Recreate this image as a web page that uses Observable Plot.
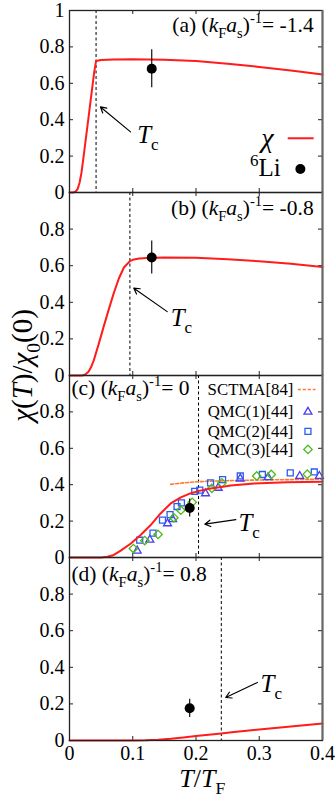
<!DOCTYPE html>
<html><head><meta charset="utf-8">
<script src="https://cdn.jsdelivr.net/npm/d3@7"></script>
<script src="https://cdn.jsdelivr.net/npm/@observablehq/plot@0.6"></script>
<style>
body{margin:0;background:#fff;}
#chart{position:relative;width:335px;height:802px;overflow:hidden;background:#fff;}
#chart svg{position:absolute;left:0;overflow:visible;background:transparent;}
#chart svg text{font-family:"Liberation Serif","Times New Roman",serif;}
</style></head><body><div id="chart"></div>
<script>
// ---------- data ----------
const panelLabels = ["(a) (*k*_{F}*a*_{s})^{-1}= -1.4", "(b) (*k*_{F}*a*_{s})^{-1}= -0.8", "(c) (*k*_{F}*a*_{s})^{-1}= 0", "(d) (*k*_{F}*a*_{s})^{-1}= 0.8"];
const tcValues = [0.042, 0.0955, 0.204, 0.24];
const xTicks = [0, 0.1, 0.2, 0.3, 0.4];
const yTicksTop = [0, 0.2, 0.4, 0.6, 0.8, 1];
const yTicks = [0, 0.2, 0.4, 0.6, 0.8];

const chiA = [[0,0],[0.006,0],[0.01,0.006],[0.013,0.02],[0.016,0.055],[0.019,0.11],[0.022,0.19],[0.026,0.3],[0.03,0.41],[0.035,0.55],[0.039,0.66],[0.042,0.723],[0.05,0.728],[0.07,0.731],[0.1,0.732],[0.15,0.729],[0.2,0.722],[0.25,0.708],[0.3,0.69],[0.35,0.67],[0.4,0.648]];
const chiB = [[0,0],[0.02,0],[0.025,0.005],[0.03,0.02],[0.034,0.045],[0.0385,0.084],[0.046,0.17],[0.054,0.267],[0.062,0.36],[0.07,0.45],[0.078,0.53],[0.086,0.59],[0.0955,0.625],[0.1,0.632],[0.11,0.639],[0.13,0.644],[0.15,0.645],[0.2,0.643],[0.25,0.635],[0.3,0.624],[0.35,0.61],[0.4,0.593]];
const chiC = [[0,0],[0.05,0],[0.06,0.004],[0.07,0.014],[0.081,0.038],[0.097,0.077],[0.112,0.122],[0.128,0.177],[0.144,0.242],[0.16,0.297],[0.176,0.33],[0.191,0.352],[0.205,0.366],[0.223,0.379],[0.24,0.387],[0.255,0.395],[0.292,0.407],[0.344,0.414],[0.4,0.416]];
const chiD = [[0,0],[0.1,0],[0.12,0.001],[0.14,0.004],[0.16,0.009],[0.18,0.016],[0.2,0.024],[0.22,0.031],[0.24,0.038],[0.26,0.046],[0.28,0.053],[0.3,0.06],[0.35,0.077],[0.4,0.093]];
const chiCurves = [chiA, chiB, chiC, chiD];

const liT = [0.13, 0.13, 0.19, 0.19];
const liChi = [0.68, 0.645, 0.272, 0.176];
const liErr = [0.105, 0.09, 0.05, 0.05];

const sctmaT = [0.16, 0.18, 0.2, 0.22, 0.25, 0.3, 0.35, 0.4];
const sctmaChi = [0.402, 0.41, 0.416, 0.419, 0.422, 0.426, 0.428, 0.43];

const qmc1 = [[0.107,0.037],[0.127,0.097],[0.155,0.187],[0.163,0.21],[0.215,0.352],[0.235,0.382],[0.27,0.433],[0.314,0.44],[0.364,0.447],[0.395,0.447]];
const qmc2 = [[0.111,0.095],[0.132,0.134],[0.147,0.205],[0.159,0.236],[0.17,0.28],[0.177,0.3],[0.198,0.363],[0.206,0.37],[0.223,0.41],[0.242,0.428],[0.27,0.448],[0.305,0.456],[0.349,0.465],[0.387,0.47]];
const qmc3 = [[0.101,0.049],[0.119,0.093],[0.14,0.127],[0.165,0.218],[0.176,0.26],[0.194,0.303],[0.225,0.38],[0.241,0.41],[0.296,0.448],[0.319,0.456],[0.376,0.458]];

const legendC = ["SCTMA[84]", "QMC(1)[44]", "QMC(2)[44]", "QMC(3)[44]"];

// annotation anchors (data space)
const tcArrows = [
  {x1:0.0965,y1:0.333,x2:0.049,y2:0.47},
  {x1:0.1545,y1:0.349,x2:0.1017,y2:0.477},
  {x1:0.263,y1:0.208,x2:0.214,y2:0.183},
  {x1:0.297,y1:0.317,x2:0.247,y2:0.235}
];
const tcLabelPos = [{x:0.107,y:0.315},{x:0.16,y:0.313},{x:0.267,y:0.187},{x:0.302,y:0.31}];
const panelLabelPos = [{x:0.386,y:0.918,a:"end"},{x:0.386,y:0.916,a:"end"},{x:0.003,y:0.929,a:"start"},{x:0.003,y:0.909,a:"start"}];

// ---------- layout ----------
const W = 335, ML = 69, MR = 13, PAD = 14;
const frameTop = [10, 192, 375, 557];
const frameH = [182, 183, 182, 183];
const FONT = '"Liberation Serif","Times New Roman",serif';
const innerW = W - ML - MR;
const RED = "#ff1c1c", ORANGE = "#ff7a2a", TRI = "#4a3cf0", SQ = "#2a5cf0", DIA = "#4cbb14";
const container = document.getElementById("chart");

function parseRich(s) {
  const out = []; let i = 0, ital = false, buf = "";
  const push = () => { if (buf) out.push({t: buf, kind: "n", ital}); buf = ""; };
  while (i < s.length) {
    const c = s[i];
    if (c === "*") { push(); ital = !ital; i++; }
    else if ((c === "_" || c === "^") && s[i+1] === "{") {
      push();
      const j = s.indexOf("}", i);
      out.push({t: s.slice(i+2, j), kind: c === "_" ? "sub" : "sup", ital: false});
      i = j + 1;
    } else { buf += c; i++; }
  }
  push();
  return out;
}
function richify(svg) {
  svg.querySelectorAll("text").forEach(el => {
    const s = el.textContent;
    if (!/\*|_\{|\^\{/.test(s)) return;
    const g = el.closest("[font-size]");
    const fs = parseFloat((g && g.getAttribute("font-size")) || 20);
    const segs = parseRich(s);
    el.textContent = "";
    let shift = 0;
    for (const sg of segs) {
      const ts = document.createElementNS("http://www.w3.org/2000/svg", "tspan");
      const target = sg.kind === "sub" ? 0.28 * fs : sg.kind === "sup" ? -0.42 * fs : 0;
      if (target !== shift) ts.setAttribute("dy", target - shift);
      shift = target;
      if (sg.kind !== "n") ts.setAttribute("font-size", 0.68 * fs);
      if (sg.ital) ts.setAttribute("font-style", "italic");
      ts.textContent = sg.t;
      el.appendChild(ts);
    }
  });
}

function build(i) {
  const mb = i === 3 ? 62 : PAD;
  const H = frameH[i];
  const yt = i === 0 ? yTicksTop : yTicks;
  const li = [{T: liT[i], chi: liChi[i], err: liErr[i]}];
  const marks = [
    Plot.ruleX([tcValues[i]], {stroke: "black", strokeWidth: 1, strokeDasharray: "3,2.5"}),
    Plot.tickY(yt, {y: d => d, insetRight: innerW - 4, stroke: "#222"}),
    Plot.tickY(yt, {y: d => d, insetLeft: innerW - 4, stroke: "#222"}),
    Plot.tickX(xTicks, {x: d => d, insetBottom: H - 4, stroke: "#222"}),
    Plot.tickX(xTicks, {x: d => d, insetTop: H - 4, stroke: "#222"}),
    Plot.axisY({ticks: yt, tickFormat: d => String(d), tickSize: 0, tickPadding: 5, fontSize: 20, fontFamily: FONT, fill: "black"}),
  ];
  if (i === 2) {
    marks.push(
      Plot.line(sctmaT.map((t, k) => [t, sctmaChi[k]]), {x: d => d[0], y: d => d[1], stroke: ORANGE, strokeWidth: 1.6, strokeDasharray: "3,2"}),
      Plot.dot(qmc1, {x: d => d[0], y: d => d[1], symbol: "triangle2", r: 3.8, stroke: TRI, strokeWidth: 1.3, fill: "none"}),
      Plot.dot(qmc2, {x: d => d[0], y: d => d[1], symbol: "square2", r: 3.8, stroke: SQ, strokeWidth: 1.3, fill: "none"}),
      Plot.dot(qmc3, {x: d => d[0], y: d => d[1], symbol: "diamond2", r: 3.8, stroke: DIA, strokeWidth: 1.3, fill: "none"})
    );
  }
  marks.push(
    Plot.line(chiCurves[i], {x: d => d[0], y: d => d[1], stroke: RED, strokeWidth: 2}),
    Plot.ruleX(li, {x: "T", y1: d => d.chi - d.err, y2: d => d.chi + d.err, stroke: "#111", strokeWidth: 1.2}),
    Plot.dot(li, {x: "T", y: "chi", r: 5, fill: "black"}),
    Plot.arrow([tcArrows[i]], {x1: "x1", y1: "y1", x2: "x2", y2: "y2", stroke: "black", strokeWidth: 1.2, headLength: 8}),
    Plot.text([tcLabelPos[i]], {x: "x", y: "y", text: () => "*T*_{c}", fontSize: 25, textAnchor: "start", lineAnchor: "middle", fill: "black"}),
    Plot.text([panelLabelPos[i]], {x: "x", y: "y", text: () => panelLabels[i], fontSize: 21.5, textAnchor: panelLabelPos[i].a, lineAnchor: "middle", fill: "black"}),
    Plot.frame({stroke: "#222", strokeWidth: 1.3}),
    Plot.ruleX([0.4], {stroke: "#666", strokeWidth: 2})
  );
  if (i === 0) {
    marks.push(
      Plot.text([{x: 0.313, y: 0.298}], {x: "x", y: "y", text: () => "*χ*", fontSize: 28, textAnchor: "middle", lineAnchor: "middle", fill: "black"}),
      Plot.link([{x1: 0.345, x2: 0.386, y: 0.298}], {x1: "x1", x2: "x2", y1: "y", y2: "y", stroke: RED, strokeWidth: 2}),
      Plot.text([{x: 0.334, y: 0.134}], {x: "x", y: "y", text: () => "^{6}Li", fontSize: 25, textAnchor: "end", lineAnchor: "middle", fill: "black"}),
      Plot.dot([{x: 0.365, y: 0.129}], {x: "x", y: "y", r: 5, fill: "black"})
    );
  }
  if (i === 1) {
    marks.push(Plot.text([{x: -0.074, y: 0.055}], {x: "x", y: "y", text: () => "*χ*(*T*)/*χ*_{0}(0)", fontSize: 29, rotate: -90, textAnchor: "middle", lineAnchor: "middle", fill: "black"}));
  }
  if (i === 2) {
    const ly = [0.923, 0.80, 0.693, 0.594];
    marks.push(
      Plot.text(legendC, {x: () => 0.354, y: (d, k) => ly[k], text: d => d, fontSize: 16.8, textAnchor: "end", lineAnchor: "middle", fill: "black"}),
      Plot.link([{x1: 0.361, x2: 0.389, y: 0.923}], {x1: "x1", x2: "x2", y1: "y", y2: "y", stroke: ORANGE, strokeWidth: 1.6, strokeDasharray: "3,2"}),
      Plot.dot([{x: 0.377, y: 0.80}], {x: "x", y: "y", symbol: "triangle2", r: 3.8, stroke: TRI, strokeWidth: 1.3, fill: "none"}),
      Plot.dot([{x: 0.377, y: 0.693}], {x: "x", y: "y", symbol: "square2", r: 3.8, stroke: SQ, strokeWidth: 1.3, fill: "none"}),
      Plot.dot([{x: 0.377, y: 0.594}], {x: "x", y: "y", symbol: "diamond2", r: 3.8, stroke: DIA, strokeWidth: 1.3, fill: "none"})
    );
  }
  if (i === 3) {
    marks.push(
      Plot.axisX({ticks: xTicks, tickFormat: d => String(d), tickSize: 0, tickPadding: 5, fontSize: 20, fontFamily: FONT, fill: "black"}),
      Plot.text([{x: 0.21}], {x: "x", frameAnchor: "bottom", dy: 38, text: () => "*T*/*T*_{F}", fontSize: 26, textAnchor: "middle", lineAnchor: "middle", fill: "black"})
    );
  }
  const svg = Plot.plot({
    width: W, height: PAD + H + mb,
    marginLeft: ML, marginRight: MR, marginTop: PAD, marginBottom: mb,
    x: i === 3 ? {domain: [0, 0.4]} : {domain: [0, 0.4], axis: null},
    y: {domain: [0, 1]},
    style: {fontFamily: FONT, fontSize: "20px", color: "black", background: "transparent", overflow: "visible"},
    marks
  });
  svg.style.position = "absolute";
  svg.style.top = (frameTop[i] - PAD) + "px";
  svg.style.left = "0px";
  richify(svg);
  container.appendChild(svg);
}
[0, 1, 2, 3].forEach(build);
</script></body></html>
